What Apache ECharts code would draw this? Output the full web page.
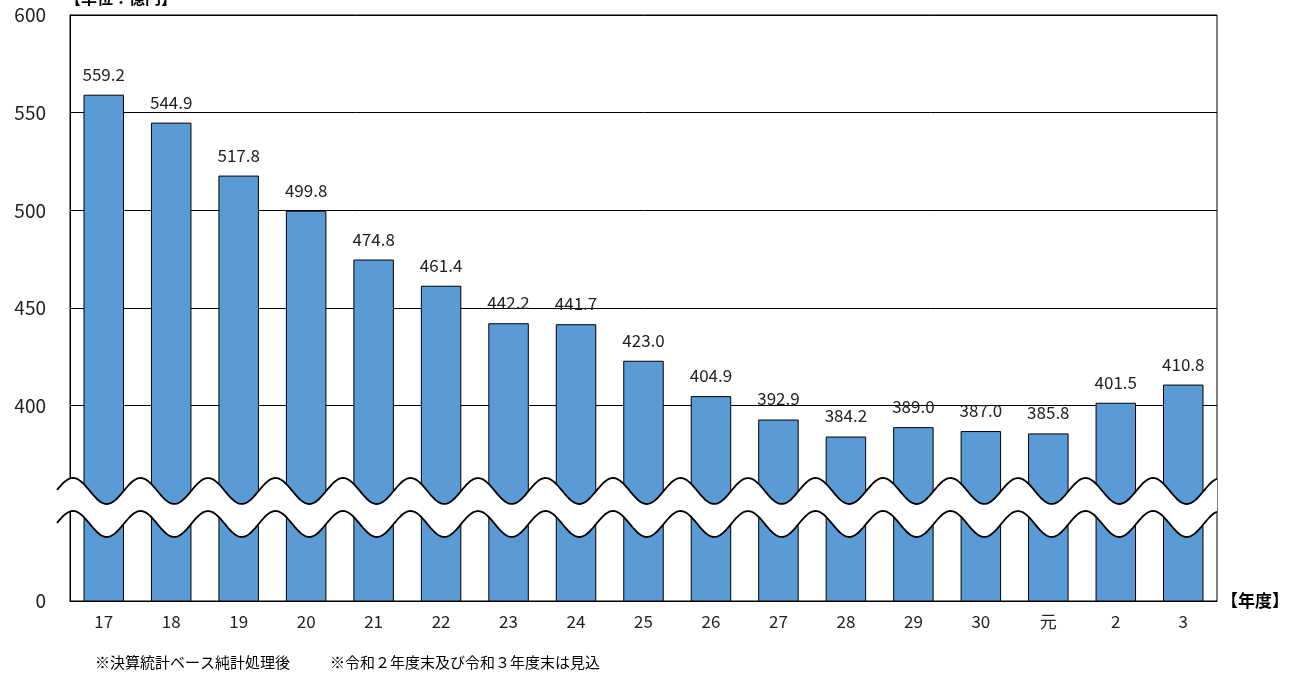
<!DOCTYPE html>
<html><head><meta charset="utf-8">
<script src="https://cdn.jsdelivr.net/npm/echarts@6/dist/echarts.min.js"></script>
<style>html,body{margin:0;background:#fff}#c{width:1293px;height:678px}</style>
</head><body><div id="c"></div>
<script>
const years = ['17','18','19','20','21','22','23','24','25','26','27','28','29','30','元','2','3'];
const values = [559.2,544.9,517.8,499.8,474.8,461.4,442.2,441.7,423.0,404.9,392.9,384.2,389.0,387.0,385.8,401.5,410.8];
const font = '"Noto Sans CJK JP", sans-serif';

const chart = echarts.init(document.getElementById('c'));
chart.setOption({
  animation: false,
  grid: { left: 70, right: 76, top: 15, bottom: 77, show: true, borderColor: '#000', borderWidth: 1 },
  xAxis: {
    type: 'category', data: years,
    axisLine: { lineStyle: { color: '#000' } }, axisTick: { show: false },
    axisLabel: { color: '#222', fontSize: 17, fontFamily: font, margin: 12 }
  },
  yAxis: {
    type: 'value', min: 300, max: 600, interval: 50,
    axisLine: { show: true, lineStyle: { color: '#000' } },
    splitLine: { lineStyle: { color: '#000' } },
    axisLabel: { color: '#222', fontSize: 19, fontFamily: font, margin: 24,
      formatter: v => v === 300 ? '0' : v === 350 ? '' : String(v) }
  },
  series: [{
    type: 'bar', data: values, barCategoryGap: '40%',
    itemStyle: { color: '#5b9bd5', borderColor: '#000', borderWidth: 1 },
    label: { show: true, position: 'top', distance: 12, color: '#222', fontSize: 17, fontFamily: font,
      formatter: p => p.value.toFixed(1) }
  }]
});

// wavy axis-break band
const x0 = 57, x1 = 1217, period = 67.5, amp = 13, yTop = 491, yBot = 524, phase = 73;
const up = [], lo = [];
for (let x = x0; x <= x1; x += 2) {
  const w = -amp * Math.cos(2 * Math.PI * (x - phase) / period);
  up.push([x, yTop + w]);
  lo.push([x, yBot + w]);
}
chart.setOption({
  graphic: [
    { type: 'polygon', shape: { points: up.concat(lo.slice().reverse()) }, style: { fill: '#fff' }, z: 100 },
    { type: 'polyline', shape: { points: up }, style: { stroke: '#000', lineWidth: 1.8, fill: null }, z: 101 },
    { type: 'polyline', shape: { points: lo }, style: { stroke: '#000', lineWidth: 1.8, fill: null }, z: 101 },
    { type: 'text', left: 65, top: -10, style: { text: '【単位：億円】', fill: '#000', font: 'bold 16px ' + font } },
    { type: 'text', left: 1221, top: 592, style: { text: '【年度】', fill: '#000', font: 'bold 17px ' + font } },
    { type: 'text', left: 95, top: 655, style: { text: '※決算統計ベース純計処理後', fill: '#000', font: '15px ' + font } },
    { type: 'text', left: 330, top: 655, style: { text: '※令和２年度末及び令和３年度末は見込', fill: '#000', font: '15px ' + font } }
  ]
});
</script></body></html>
